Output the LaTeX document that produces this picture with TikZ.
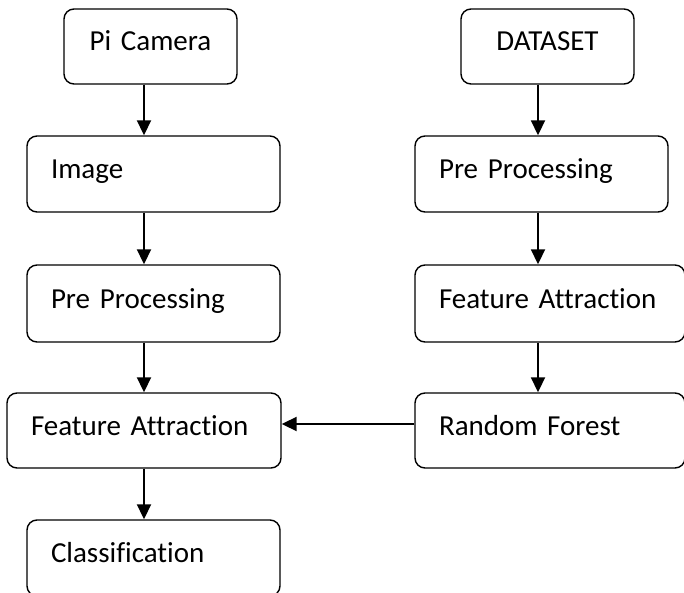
\documentclass[tikz,border=0pt]{standalone}
\usepackage{fontspec}
\setmainfont{Carlito}[Ligatures=CommonOff]
\usetikzlibrary{arrows.meta}
\begin{document}
\begin{tikzpicture}[x=1pt,y=-1pt,
    box/.style={draw,line width=1.4pt,rounded corners=10pt,inner xsep=24pt,inner ysep=0pt,
      text height=19pt,text depth=10pt,font=\fontsize{29}{34}\selectfont},
    arr/.style={line width=1.9pt,-{Triangle[width=14pt,length=15pt]}}]
      \useasboundingbox (0,0) rectangle (684,593);
      \coordinate (colL) at (144,0);
      \coordinate (colR) at (538,0);
      \coordinate (link) at (0,424);
      \node[box,minimum height=75pt,text width=125pt,align=center] (cam) at (150.5,46.5) {Pi Camera};
      \node[box,minimum height=76pt,text width=205pt,align=left] (img) at (153.5,174) {Image};
      \node[box,minimum height=77pt,text width=205pt,align=left] (preL) at (153.5,303.5) {Pre Processing};
      \node[box,minimum height=75pt,text width=226pt,align=left] (featL) at (144,430.5) {Feature Attraction};
      \node[box,minimum height=76pt,text width=205pt,align=left] (cls) at (153.5,558) {Classification};
      \node[box,minimum height=75pt,text width=125pt,align=center] (data) at (547.5,46.5) {DATASET};
      \node[box,minimum height=76pt,text width=205pt,align=left] (preR) at (541.5,174) {Pre Processing};
      \node[box,minimum height=77pt,text width=222pt,align=left] (featR) at (550,303.5) {Feature Attraction};
      \node[box,minimum height=75pt,text width=222pt,align=left] (rf) at (550,430.5) {Random Forest};
      \foreach \a/\b in {cam/img,img/preL,preL/featL,featL/cls}
        \draw[arr] (\a.south -| colL) -- (\b.north -| colL);
      \foreach \a/\b in {data/preR,preR/featR,featR/rf}
        \draw[arr] (\a.south -| colR) -- (\b.north -| colR);
      \draw[arr] (rf.west |- link) -- (featL.east |- link);
    \end{tikzpicture}
\end{document}
